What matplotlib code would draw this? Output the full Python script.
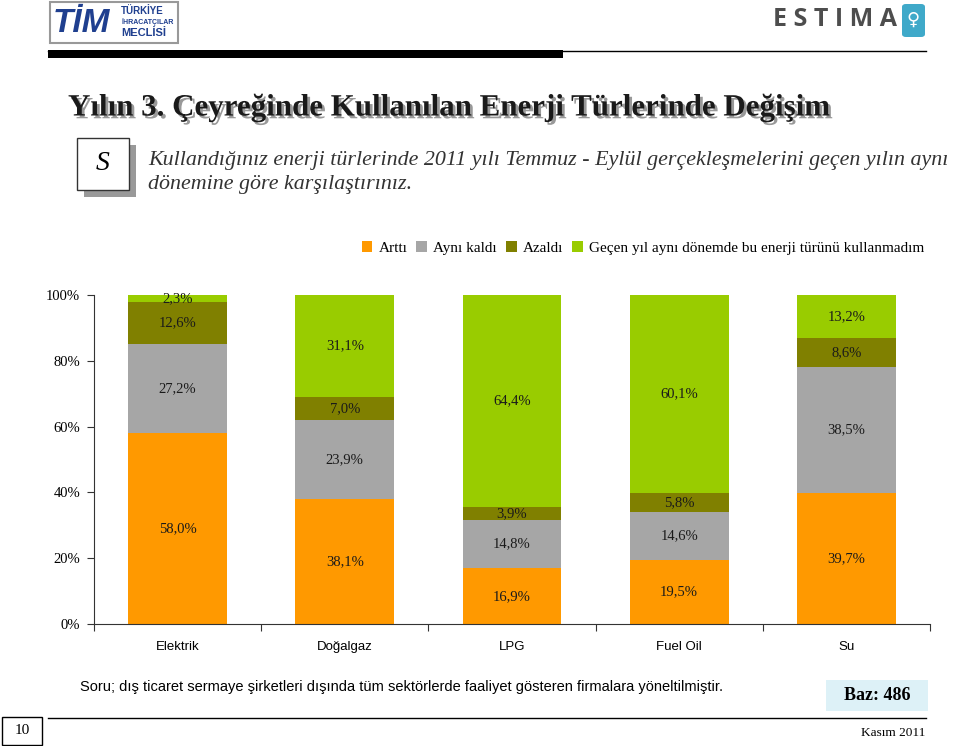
import matplotlib
matplotlib.use('Agg')
import matplotlib.pyplot as plt
import matplotlib.patches as mpatches
import matplotlib.patheffects as pe
import numpy as np

categories = ['Elektrik', 'Doğalgaz', 'LPG', 'Fuel Oil', 'Su']
series_names = ['Arttı', 'Aynı kaldı', 'Azaldı',
                'Geçen yıl aynı dönemde bu enerji türünü kullanmadım']
artti = [58.0, 38.1, 16.9, 19.5, 39.7]
ayni = [27.2, 23.9, 14.8, 14.6, 38.5]
azaldi = [12.6, 7.0, 3.9, 5.8, 8.6]
kullanmadim = [2.3, 31.1, 64.4, 60.1, 13.2]
colors = ['#FF9900', '#A6A6A6', '#808000', '#99CC00']

W, H = 960, 746
fig = plt.figure(figsize=(W / 100, H / 100), dpi=100)
serif = 'Liberation Serif'
sans = 'Liberation Sans'


def fx(x):
    return x / W


def fy(y):
    return 1 - y / H


# ---- header: logos and rule
fig.patches.append(mpatches.Rectangle((fx(50), fy(43)), fx(128), 41 / H, transform=fig.transFigure,
                                      facecolor='white', edgecolor='#999999', lw=1.5))
fig.text(fx(53), fy(23), 'TİM', fontsize=24, fontweight='bold', color='#1F3F8F', va='center',
         fontstyle='italic', family=sans)
fig.text(fx(121), fy(11), 'TÜRKİYE', fontsize=7, fontweight='bold', color='#1F3F8F', va='center',
         family=sans)
fig.text(fx(121), fy(22), 'İHRACATÇILAR', fontsize=5, fontweight='bold', color='#1F3F8F', va='center',
         family=sans)
fig.text(fx(121), fy(33), 'MECLİSİ', fontsize=8, fontweight='bold', color='#1F3F8F', va='center',
         family=sans)
fig.text(fx(897), fy(20), 'E S T I M A', fontsize=18, fontweight='bold', color='#4d4d4d', ha='right',
         va='center', family='Open Sans')
fig.patches.append(mpatches.FancyBboxPatch((fx(902), fy(37)), fx(23), 33 / H, transform=fig.transFigure,
                                           boxstyle='round,pad=0,rounding_size=0.004',
                                           facecolor='#3FA9C9', edgecolor='none'))
fig.text(fx(913), fy(20), '♀', fontsize=13, color='white', ha='center', va='center', family='DejaVu Sans')
fig.patches.append(mpatches.Rectangle((fx(48), fy(58)), fx(515), 8 / H, transform=fig.transFigure,
                                      facecolor='black', edgecolor='none'))
fig.lines.append(plt.Line2D([fx(48), fx(926)], [fy(51), fy(51)], transform=fig.transFigure,
                            color='black', lw=1))

# ---- title and question
fig.text(fx(68), fy(108), 'Yılın 3. Çeyreğinde Kullanılan Enerji Türlerinde Değişim', fontsize=22.3,
         fontweight='bold', color='#1a1a1a', va='center', family=serif,
         path_effects=[pe.withSimplePatchShadow(offset=(2, -2), shadow_rgbFace='#999999', alpha=1)])
fig.patches.append(mpatches.Rectangle((fx(84), fy(197)), fx(52), 52 / H, transform=fig.transFigure,
                                      facecolor='#999999', edgecolor='none'))
fig.patches.append(mpatches.Rectangle((fx(77), fy(190)), fx(52), 52 / H, transform=fig.transFigure,
                                      facecolor='white', edgecolor='#333333', lw=1))
fig.text(fx(103), fy(164), 'S', fontsize=20, fontstyle='italic', ha='center', va='center', family=serif)
fig.text(fx(148), fy(160), 'Kullandığınız enerji türlerinde 2011 yılı Temmuz - Eylül gerçekleşmelerini geçen yılın aynı',
         fontsize=15.8, fontstyle='italic', color='#333333', va='center', family=serif)
fig.text(fx(148), fy(184), 'dönemine göre karşılaştırınız.',
         fontsize=15.8, fontstyle='italic', color='#333333', va='center', family=serif)

# ---- chart
ax = fig.add_axes([fx(94), fy(624), fx(836), 329 / H])
data = [artti, ayni, azaldi, kullanmadim]
x = np.arange(len(categories))
bottom = np.zeros(len(categories))
for vals, name, col in zip(data, series_names, colors):
    vals = np.array(vals)
    ax.bar(x, vals, 0.59, bottom=bottom, color=col, label=name)
    for xi, b, v in zip(x, bottom, vals):
        ax.text(xi, min(b + v / 2, 98.85), f'{v:.1f}%'.replace('.', ','), ha='center', va='center',
                fontsize=10.5, family=serif, color='#1a1a1a')
    bottom = bottom + vals

ax.set_xlim(-0.5, len(categories) - 0.5)
ax.set_ylim(0, 100)
ax.set_yticks(range(0, 101, 20))
ax.set_yticklabels([f'{v}%' for v in range(0, 101, 20)], family=serif, fontsize=10.5)
ax.set_xticks(np.arange(-0.5, len(categories), 1))
ax.set_xticklabels([])
ax.tick_params(axis='x', length=5, color='#333333')
ax.tick_params(axis='y', length=5, color='#333333', pad=5)
for s in ['top', 'right']:
    ax.spines[s].set_visible(False)
for s in ['left', 'bottom']:
    ax.spines[s].set_color('#333333')
for xi, c in zip(x, categories):
    ax.text(xi, -7.0, c, ha='center', va='center', fontsize=9.5, family=sans)

fig.legend(loc='center', bbox_to_anchor=(fx(643), fy(248)), ncol=4, frameon=False,
           prop={'family': serif, 'size': 11}, handlelength=0.7, handleheight=0.7,
           handletextpad=0.4, columnspacing=0.6)

# ---- footer
fig.text(fx(80), fy(687), 'Soru; dış ticaret sermaye şirketleri dışında tüm sektörlerde faaliyet gösteren firmalara yöneltilmiştir.',
         fontsize=10.5, va='center', family=sans)
fig.patches.append(mpatches.Rectangle((fx(826), fy(711)), fx(102), 31 / H, transform=fig.transFigure,
                                      facecolor='#DDF1F7', edgecolor='none'))
fig.text(fx(877), fy(695), 'Baz: 486', fontsize=13, fontweight='bold', ha='center', va='center',
         family=serif)
fig.lines.append(plt.Line2D([fx(48), fx(926)], [fy(718), fy(718)], transform=fig.transFigure,
                            color='black', lw=1))
fig.patches.append(mpatches.Rectangle((fx(2), fy(745)), fx(40), 28 / H, transform=fig.transFigure,
                                      facecolor='white', edgecolor='black', lw=1))
fig.text(fx(22), fy(731), '10', fontsize=11, ha='center', va='center', family=serif)
fig.text(fx(925), fy(733), 'Kasım 2011', fontsize=9.5, ha='right', va='center', family=serif)

fig.savefig('out.png', dpi=100)
